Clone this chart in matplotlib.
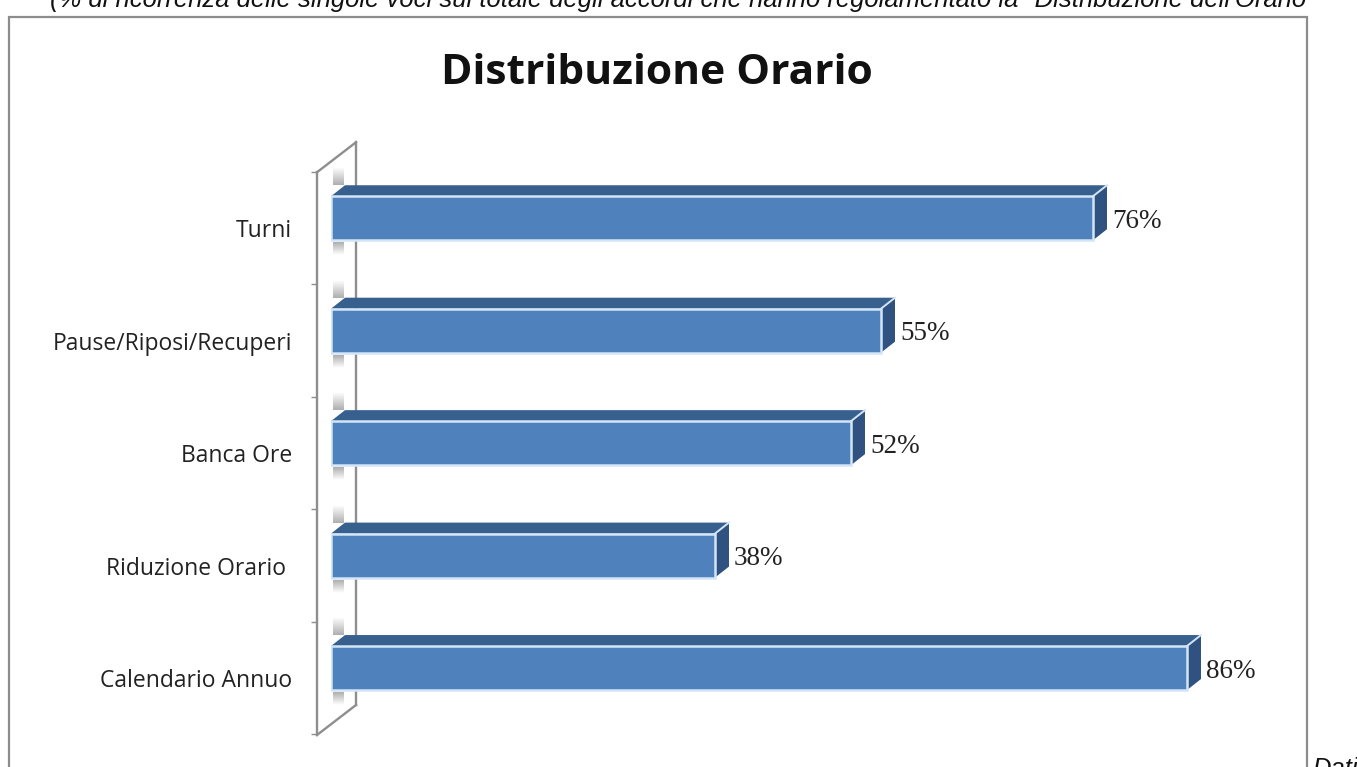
import numpy as np
import matplotlib
matplotlib.use('Agg')
import matplotlib.pyplot as plt
from matplotlib.patches import Polygon, Rectangle

# data
categorie = ['Calendario Annuo', 'Riduzione Orario ', 'Banca Ore', 'Pause/Riposi/Recuperi', 'Turni']
valori = [85.6, 38.4, 52, 55, 76.2]
titolo = 'Distribuzione Orario'
nota = '(% di ricorrenza delle singole voci sul totale degli accordi che hanno regolamentato la "Distribuzione dell\'Orario"'
fonte = 'Dati'

W, H = 1357, 767
fig = plt.figure(figsize=(W / 100, H / 100), dpi=100, facecolor='white')

AX_L, AX_R, AX_T, AX_B = 331, 1331, 172, 735
ax = fig.add_axes([AX_L / W, 1 - AX_B / H, (AX_R - AX_L) / W, (AX_B - AX_T) / H])
ax.patch.set_alpha(0)

PX_X = 10.0     # pixels per percent point
PX_Y = 112.5    # pixels per category
ax.set_xlim(0, (AX_R - AX_L) / PX_X)
ax.set_ylim((668 - AX_B) / PX_Y, (668 - AX_T) / PX_Y)

# 3d depth of the bars and of the wall
dx = 14 / PX_X
dy = 11 / PX_Y
wall_dx = 39 / PX_X
wall_dy = 30 / PX_Y
bar_h = 44 / PX_Y

y = np.arange(len(categorie))
y0, y1 = ax.get_ylim()
x_wall = -14 / PX_X

# wall, back edge and bottom edge
grigio = '#8e8e8e'
ax.plot([x_wall + wall_dx] * 2, [y0 + wall_dy, y1 + wall_dy], color=grigio, lw=1.7, clip_on=False, zorder=1)
ax.plot([x_wall, x_wall + wall_dx], [y1, y1 + wall_dy], color=grigio, lw=1.7, clip_on=False, zorder=1)
ax.plot([x_wall, x_wall + wall_dx], [y0, y0 + wall_dy], color=grigio, lw=1.7, clip_on=False, zorder=1)

# shadow of the bars on the wall
ramp = np.zeros((32, 1, 4))
ramp[..., :3] = 0.55
ramp[:, 0, 3] = np.linspace(0, 0.7, 32)
for yy in y:
    top = yy + bar_h / 2 + dy
    ax.imshow(ramp, extent=(2 / PX_X, 13 / PX_X, top, top + 18 / PX_Y), origin='upper',
              aspect='auto', zorder=1.5, interpolation='bilinear', clip_on=False)
    bot = yy - bar_h / 2
    ax.imshow(ramp, extent=(2 / PX_X, 13 / PX_X, bot - 15 / PX_Y, bot - 2 / PX_Y), origin='lower',
              aspect='auto', zorder=1.5, interpolation='bilinear', clip_on=False)
ax.set_xlim(0, (AX_R - AX_L) / PX_X)
ax.set_ylim(y0, y1)

# bars
ax.barh(y, valori, height=bar_h, color='#4f81bd', edgecolor='#d3e5f6', linewidth=1.8, zorder=3)
for yy, v in zip(y, valori):
    t, b = yy + bar_h / 2, yy - bar_h / 2
    ax.add_patch(Polygon([(0, t), (dx, t + dy), (v + dx, t + dy), (v, t)],
                         facecolor='#38608f', edgecolor='none', zorder=2.5))
    ax.add_patch(Polygon([(v, t), (v + dx, t + dy), (v + dx, b + dy), (v, b)],
                         facecolor='#2f5280', edgecolor='none', zorder=2.5))
    ax.plot([v, v + dx], [t, t + dy], color='#d3e5f6', lw=1.4, zorder=3.5)
    ax.text(v + 19 / PX_X, yy - 3 / PX_Y, '%.0f%%' % v, family='Liberation Serif', fontsize=19.5,
            color='#222222', ha='left', va='center', zorder=4)

# axis: the spine is the front edge of the wall
for s in ['top', 'right', 'bottom']:
    ax.spines[s].set_visible(False)
ax.spines['left'].set_position(('outward', 14 * 0.72))
ax.spines['left'].set_color(grigio)
ax.spines['left'].set_linewidth(1.7)
ax.set_xticks([])
ax.set_yticks(np.arange(-0.5, len(categorie)) - 10 / PX_Y)
ax.set_yticklabels([])
ax.tick_params(axis='y', which='major', length=4, width=1, color=grigio)
ax.set_yticks(y - 10 / PX_Y, minor=True)
ax.set_yticklabels(categorie, minor=True, family='Open Sans', fontsize=16.5, color='#222222')
ax.tick_params(axis='y', which='minor', length=0, pad=18)

# chart frame, runs off the bottom of the image
fig.add_artist(Rectangle((9 / W, -0.02), (1307 - 9) / W, 1.02 - 17 / H, transform=fig.transFigure,
                         facecolor='none', edgecolor='#8c8c8c', linewidth=1.6, zorder=0))

fig.text(657 / W, 1 - 74 / H, titolo, family='Open Sans', fontweight='bold', fontsize=30.6,
         color='#111111', ha='center', va='center')
fig.text(50 / W, 1 - 7 / H, nota, family='Liberation Sans', style='italic', fontsize=18.45,
         color='#111111', ha='left', va='baseline')
fig.text(1312 / W, 1 - 776 / H, fonte, family='Liberation Sans', style='italic', fontsize=18.45,
         color='#111111', ha='left', va='baseline')

fig.savefig('out.png', dpi=100)
